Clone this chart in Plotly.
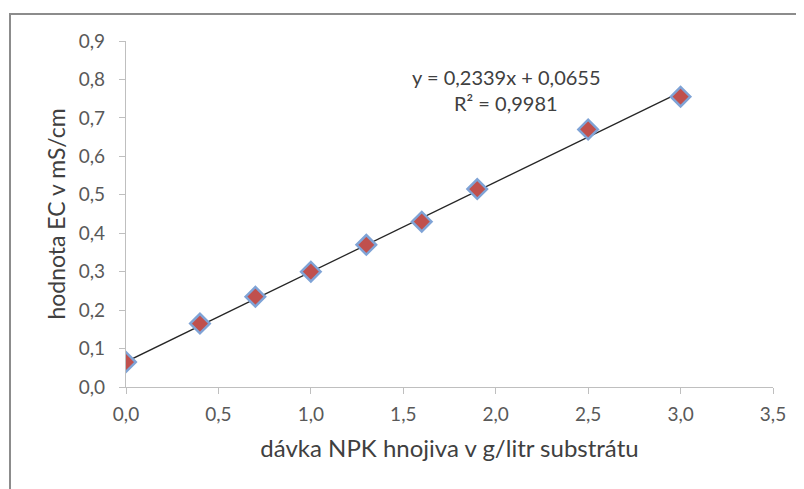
import plotly.graph_objects as go

dose = [0.0, 0.4, 0.7, 1.0, 1.3, 1.6, 1.9, 2.5, 3.0]
ec = [0.065, 0.165, 0.235, 0.300, 0.370, 0.430, 0.515, 0.670, 0.755]
slope = 0.2339
intercept = 0.0655
eq_text = "y = 0,2339x + 0,0655"
r2_text = "R² = 0,9981"
x_ticks = [0, 0.5, 1.0, 1.5, 2.0, 2.5, 3.0, 3.5]
y_ticks = [0, 0.1, 0.2, 0.3, 0.4, 0.5, 0.6, 0.7, 0.8, 0.9]

trend_x = [min(dose), max(dose)]
trend_y = [slope * v + intercept for v in trend_x]

W, H = 804, 489
OFF = 8  # page body offset
PL, PR, PT, PB = 126, 773, 41, 387  # plot area in page pixels
L = PL - OFF
T = PT - OFF
R = W - (PR - OFF)
B = H - (PB - OFF)
pw, ph = PR - PL, PB - PT

def px(xp):
    return (xp - PL) / pw

def py(yp):
    return (PB - yp) / ph

FONT = "Lato, sans-serif"

fig = go.Figure()
fig.add_trace(go.Scatter(x=trend_x, y=trend_y, mode="lines",
                         line=dict(color="#262626", width=1.3),
                         hoverinfo="skip", showlegend=False))
fig.add_trace(go.Scatter(x=dose, y=ec, mode="markers",
                         marker=dict(symbol="diamond", size=15, color="#c0504d",
                                     line=dict(color="#7fa3d6", width=2.5)),
                         showlegend=False))

fig.add_annotation(x=px(507), y=py(63), xref="paper", yref="paper",
                   text=eq_text, showarrow=False,
                   font=dict(family=FONT, size=20, color="#404040"))
fig.add_annotation(x=px(506), y=py(89), xref="paper", yref="paper",
                   text=r2_text, showarrow=False,
                   font=dict(family=FONT, size=20, color="#404040"))

# outer frame (top and left edges)
fig.add_shape(type="line", xref="paper", yref="paper",
              x0=px(9), x1=px(830), y0=py(14), y1=py(14),
              line=dict(color="#8c8c8c", width=2))
fig.add_shape(type="line", xref="paper", yref="paper",
              x0=px(10), x1=px(10), y0=py(14), y1=py(520),
              line=dict(color="#8c8c8c", width=2))

axis_common = dict(showgrid=False, zeroline=False, showline=True,
                   linecolor="#bfbfbf", linewidth=1.3, ticks="outside",
                   ticklen=6, tickcolor="#bfbfbf", tickwidth=1.3,
                   tickformat=".1f",
                   tickfont=dict(family=FONT, size=19, color="#595959"))

fig.update_xaxes(range=[0, 3.5], tickvals=x_ticks, ticklabelstandoff=4,
                 title=dict(text="dávka NPK hnojiva v g/litr substrátu",
                            font=dict(family=FONT, size=24, color="#404040"),
                            standoff=16),
                 **axis_common)
fig.update_yaxes(range=[0, 0.9], tickvals=y_ticks, ticklabelstandoff=10,
                 title=dict(text="hodnota EC v mS/cm",
                            font=dict(family=FONT, size=23, color="#404040"),
                            standoff=6),
                 **axis_common)

fig.update_layout(width=W, height=H, margin=dict(l=L, r=R, t=T, b=B),
                  plot_bgcolor="white", paper_bgcolor="white",
                  separators=", ")

fig.write_html("out.html")
